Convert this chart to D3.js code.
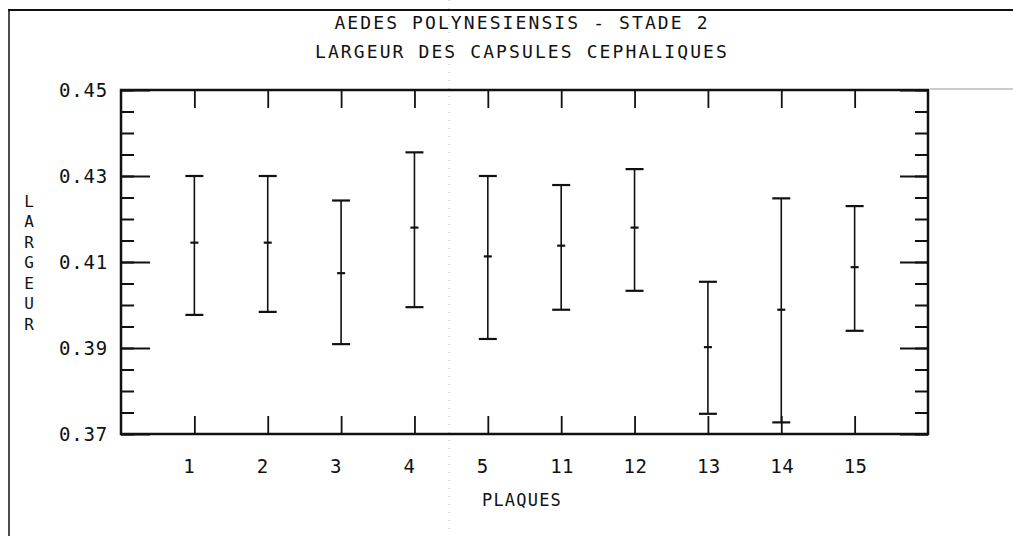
<!DOCTYPE html>
<html>
<head>
<meta charset="utf-8">
<script src="https://cdn.jsdelivr.net/npm/d3@7"></script>
<style>
  html, body { margin: 0; padding: 0; background: #fff; }
  svg text { font-family: "DejaVu Sans Mono", "Liberation Mono", monospace; fill: #111; }
</style>
</head>
<body>
<div id="chart"></div>
<script>
// Plates (x categories) and head capsule widths
const categories = ['1', '2', '3', '4', '5', '11', '12', '13', '14', '15'];
const means  = [0.4145, 0.4145, 0.4074, 0.4180, 0.4113, 0.4138, 0.4180, 0.3902, 0.3989, 0.4088];
const upper  = [0.4300, 0.4300, 0.4243, 0.4355, 0.4300, 0.4279, 0.4316, 0.4054, 0.4248, 0.4230];
const lower  = [0.3977, 0.3984, 0.3909, 0.3995, 0.3921, 0.3989, 0.4033, 0.3747, 0.3727, 0.3940];
const yMajor = [0.37, 0.39, 0.41, 0.43, 0.45];
const yLabels = ['0.37', '0.39', '0.41', '0.43', '0.45'];
const titleLines = ['AEDES POLYNESIENSIS - STADE 2', 'LARGEUR DES CAPSULES CEPHALIQUES'];
const yTitle = 'LARGEUR';
const xTitle = 'PLAQUES';

const W = 1013, H = 536;
const frame = { left: 121, right: 928, top: 90, bottom: 434 };
const ink = '#111';

const svg = d3.select('#chart').append('svg')
  .attr('width', W).attr('height', H)
  .attr('viewBox', `0 0 ${W} ${H}`);

const x = d3.scalePoint().domain(categories).range([frame.left, frame.right]).padding(1);
const y = d3.scaleLinear().domain([0.37, 0.45]).range([frame.bottom, frame.top]);

// page border (scanned sheet edges)
svg.append('line').attr('x1', 8).attr('x2', W).attr('y1', 10).attr('y2', 10)
  .attr('stroke', ink).attr('stroke-width', 2);
svg.append('line').attr('x1', 9).attr('x2', 9).attr('y1', 10).attr('y2', H)
  .attr('stroke', ink).attr('stroke-width', 1.5);
svg.append('line').attr('x1', frame.right + 2).attr('x2', W).attr('y1', frame.top - 1).attr('y2', frame.top - 1)
  .attr('stroke', '#999').attr('stroke-width', 1.2);
// faint fold line of the scan
svg.append('line').attr('x1', 449).attr('x2', 449).attr('y1', 0).attr('y2', H)
  .attr('stroke', '#bbb').attr('stroke-width', 1).attr('stroke-dasharray', '1,7');

// titles
svg.selectAll('text.title')
  .data(titleLines)
  .join('text')
  .attr('class', 'title')
  .attr('x', 522)
  .attr('y', (d, i) => 22 + i * 29)
  .attr('text-anchor', 'middle')
  .attr('dominant-baseline', 'central')
  .attr('font-size', 18)
  .attr('letter-spacing', 2.1)
  .text(d => d);

// y axes: minor and major ticks on both sides, pointing inward
const minorTicks = d3.range(0, 17).map(i => 0.37 + i * 0.005);
function yTicks(sel, axisFn, values, size) {
  sel.call(axisFn(y).tickValues(values).tickSize(size).tickFormat(''))
    .call(g => g.select('.domain').remove())
    .call(g => g.selectAll('line').attr('stroke', ink).attr('stroke-width', 2));
}
yTicks(svg.append('g').attr('transform', `translate(${frame.left},0)`), d3.axisLeft, minorTicks, -13);
yTicks(svg.append('g').attr('transform', `translate(${frame.left},0)`), d3.axisLeft, yMajor, -29);
yTicks(svg.append('g').attr('transform', `translate(${frame.right},0)`), d3.axisRight, minorTicks, -13);
yTicks(svg.append('g').attr('transform', `translate(${frame.right},0)`), d3.axisRight, yMajor, -28);

// y tick labels
svg.selectAll('text.ylab')
  .data(yMajor)
  .join('text')
  .attr('class', 'ylab')
  .attr('x', 108)
  .attr('y', d => y(d))
  .attr('text-anchor', 'end')
  .attr('dominant-baseline', 'central')
  .attr('font-size', 19)
  .attr('letter-spacing', 0.8)
  .text((d, i) => yLabels[i]);

// x axes: category ticks top and bottom, pointing inward
function xTicks(sel, axisFn) {
  sel.call(axisFn(x).tickSize(-18).tickFormat(''))
    .call(g => g.select('.domain').remove())
    .call(g => g.selectAll('line').attr('stroke', ink).attr('stroke-width', 1.8));
}
xTicks(svg.append('g').attr('transform', `translate(0,${frame.bottom})`), d3.axisBottom);
xTicks(svg.append('g').attr('transform', `translate(0,${frame.top})`), d3.axisTop);

// x tick labels (left aligned just before the tick, like the plotter)
svg.selectAll('text.xlab')
  .data(categories)
  .join('text')
  .attr('class', 'xlab')
  .attr('x', d => x(d) - 11)
  .attr('y', 466)
  .attr('dominant-baseline', 'central')
  .attr('font-size', 19)
  .attr('letter-spacing', 0.5)
  .text(d => d);

// frame
svg.append('rect')
  .attr('x', frame.left).attr('y', frame.top)
  .attr('width', frame.right - frame.left).attr('height', frame.bottom - frame.top)
  .attr('fill', 'none').attr('stroke', ink).attr('stroke-width', 2.5);

// axis titles
svg.append('text')
  .attr('x', 522).attr('y', 500)
  .attr('text-anchor', 'middle')
  .attr('dominant-baseline', 'central')
  .attr('font-size', 17)
  .attr('letter-spacing', 1.2)
  .text(xTitle);

svg.selectAll('text.ytitle')
  .data(yTitle.split(''))
  .join('text')
  .attr('class', 'ytitle')
  .attr('x', 29)
  .attr('y', (d, i) => 201 + i * 20.5)
  .attr('text-anchor', 'middle')
  .attr('dominant-baseline', 'central')
  .attr('font-size', 16)
  .text(d => d);

// error bars
const rows = categories.map((c, i) => ({ c, mean: means[i], hi: upper[i], lo: lower[i] }));
const bars = svg.append('g').selectAll('g').data(rows).join('g');
bars.append('line')
  .attr('x1', d => x(d.c)).attr('x2', d => x(d.c))
  .attr('y1', d => y(d.hi)).attr('y2', d => y(d.lo))
  .attr('stroke', ink).attr('stroke-width', 1.6);
bars.append('line')
  .attr('x1', d => x(d.c) - 9).attr('x2', d => x(d.c) + 9)
  .attr('y1', d => y(d.hi)).attr('y2', d => y(d.hi))
  .attr('stroke', ink).attr('stroke-width', 2.2);
bars.append('line')
  .attr('x1', d => x(d.c) - 9).attr('x2', d => x(d.c) + 9)
  .attr('y1', d => y(d.lo)).attr('y2', d => y(d.lo))
  .attr('stroke', ink).attr('stroke-width', 2.2);
bars.append('line')
  .attr('x1', d => x(d.c) - 4).attr('x2', d => x(d.c) + 4)
  .attr('y1', d => y(d.mean)).attr('y2', d => y(d.mean))
  .attr('stroke', ink).attr('stroke-width', 2.2);
</script>
</body>
</html>
